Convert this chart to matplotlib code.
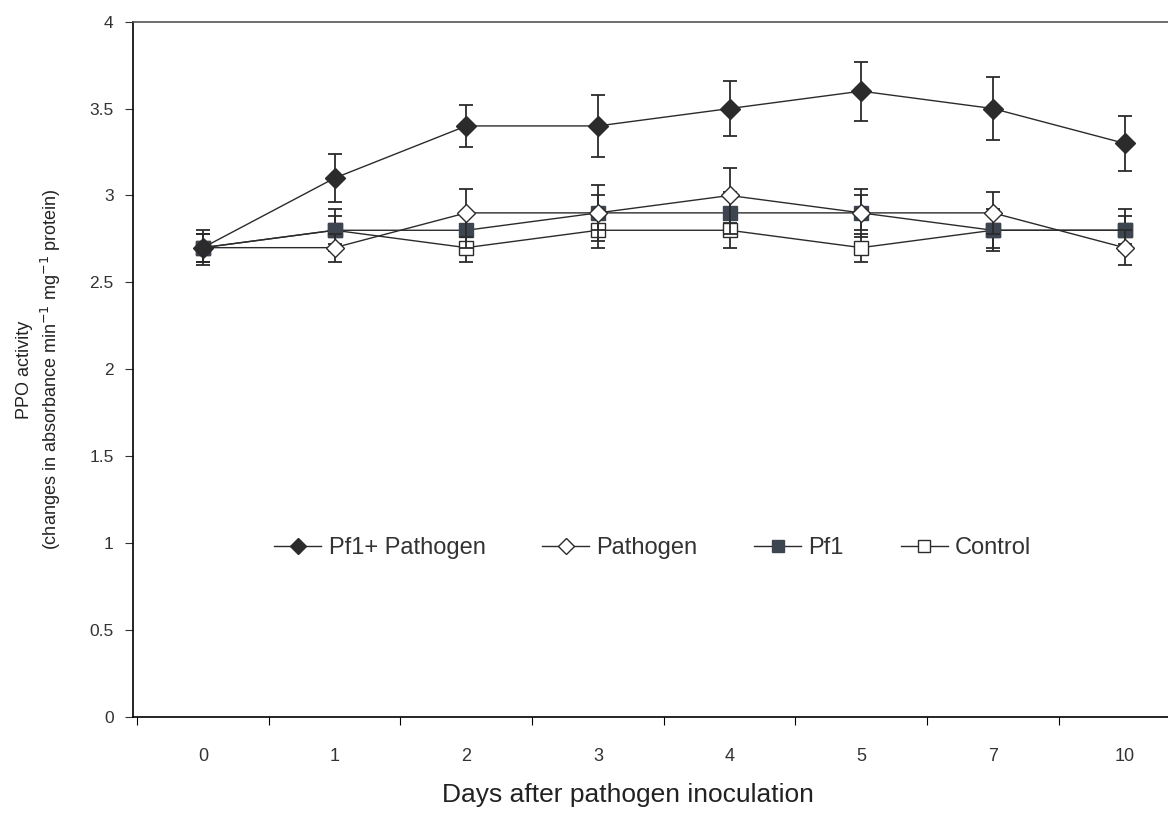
import numpy as np
import matplotlib.pyplot as plt
from matplotlib.lines import Line2D

plt.rcParams['font.family'] = ['Liberation Sans', 'DejaVu Sans']

days = ['0', '1', '2', '3', '4', '5', '7', '10']

pf1_path = [2.7, 3.1, 3.4, 3.4, 3.5, 3.6, 3.5, 3.3]
pf1_path_err = [0.08, 0.14, 0.12, 0.18, 0.16, 0.17, 0.18, 0.16]

pathogen = [2.7, 2.7, 2.9, 2.9, 3.0, 2.9, 2.9, 2.7]
pathogen_err = [0.08, 0.08, 0.14, 0.10, 0.16, 0.10, 0.12, 0.10]

pf1 = [2.7, 2.8, 2.8, 2.9, 2.9, 2.9, 2.8, 2.8]
pf1_err = [0.10, 0.12, 0.10, 0.16, 0.12, 0.14, 0.12, 0.12]

control = [2.7, 2.8, 2.7, 2.8, 2.8, 2.7, 2.8, 2.8]
control_err = [0.08, 0.08, 0.08, 0.10, 0.10, 0.08, 0.10, 0.08]

fig = plt.figure(figsize=(11.68, 8.31), dpi=100)
ax = fig.add_axes([0.114, 0.137, 0.886, 0.837])

x = np.arange(len(days))
dark = '#2b2b2b'
sq_fill = '#3d4650'
common = dict(color=dark, linewidth=1.0, elinewidth=1.3, capsize=5, capthick=1.3)

ax.errorbar(x, control, yerr=control_err, marker='s', markersize=10,
            markerfacecolor='white', markeredgecolor=dark, zorder=2, **common)
ax.errorbar(x, pf1, yerr=pf1_err, marker='s', markersize=10,
            markerfacecolor=sq_fill, markeredgecolor=sq_fill, zorder=3, **common)
ax.errorbar(x, pathogen, yerr=pathogen_err, marker='D', markersize=9,
            markerfacecolor='white', markeredgecolor=dark, zorder=4, **common)
ax.errorbar(x, pf1_path, yerr=pf1_path_err, marker='D', markersize=10,
            markerfacecolor=dark, markeredgecolor=dark, zorder=5, **common)

ax.set_ylim(0, 4)
ax.set_xlim(-0.53, 7.33)
ax.set_yticks(np.arange(0, 4.01, 0.5))
ax.set_yticklabels(['0', '0.5', '1', '1.5', '2', '2.5', '3', '3.5', '4'])
ax.set_xticks(x)
ax.set_xticklabels(days)
ax.set_xticks(np.arange(-0.5, 7.5, 1.0), minor=True)
ax.tick_params(axis='x', which='major', length=0, pad=22, labelsize=13, colors='#333333')
ax.tick_params(axis='x', which='minor', length=6, width=0.8, direction='out')
ax.tick_params(axis='y', length=6, width=0.8, direction='out', labelsize=12.5, pad=8, colors='#333333')

ax.spines['right'].set_visible(False)
ax.spines['top'].set_color('#555555')
for s in ['left', 'bottom', 'top']:
    ax.spines[s].set_linewidth(1.2)

ax.set_xlabel('Days after pathogen inoculation', fontsize=19, color='#222222')
ax.xaxis.set_label_coords(0.478, -0.094)
ax.set_ylabel('PPO activity\n(changes in absorbance min$^{-1}$ mg$^{-1}$ protein)',
              fontsize=13, color='#222222', linespacing=1.3)
ax.yaxis.set_label_coords(-0.068, 0.5)

handles = [
    Line2D([], [], color=dark, lw=1.0, marker='D', markersize=8, markerfacecolor=dark, markeredgecolor=dark),
    Line2D([], [], color=dark, lw=1.0, marker='D', markersize=8, markerfacecolor='white', markeredgecolor=dark),
    Line2D([], [], color=dark, lw=1.0, marker='s', markersize=9, markerfacecolor=sq_fill, markeredgecolor=sq_fill),
    Line2D([], [], color=dark, lw=1.0, marker='s', markersize=9, markerfacecolor='white', markeredgecolor=dark),
]
labels = ['Pf1+ Pathogen', 'Pathogen', 'Pf1', 'Control']
ax.legend(handles, labels, loc='center', bbox_to_anchor=(0.502, 0.243), ncol=4, frameon=False,
          fontsize=17, handlelength=2.0, columnspacing=2.4, handletextpad=0.3,
          labelcolor='#333333')

fig.savefig('out.png', dpi=100)
